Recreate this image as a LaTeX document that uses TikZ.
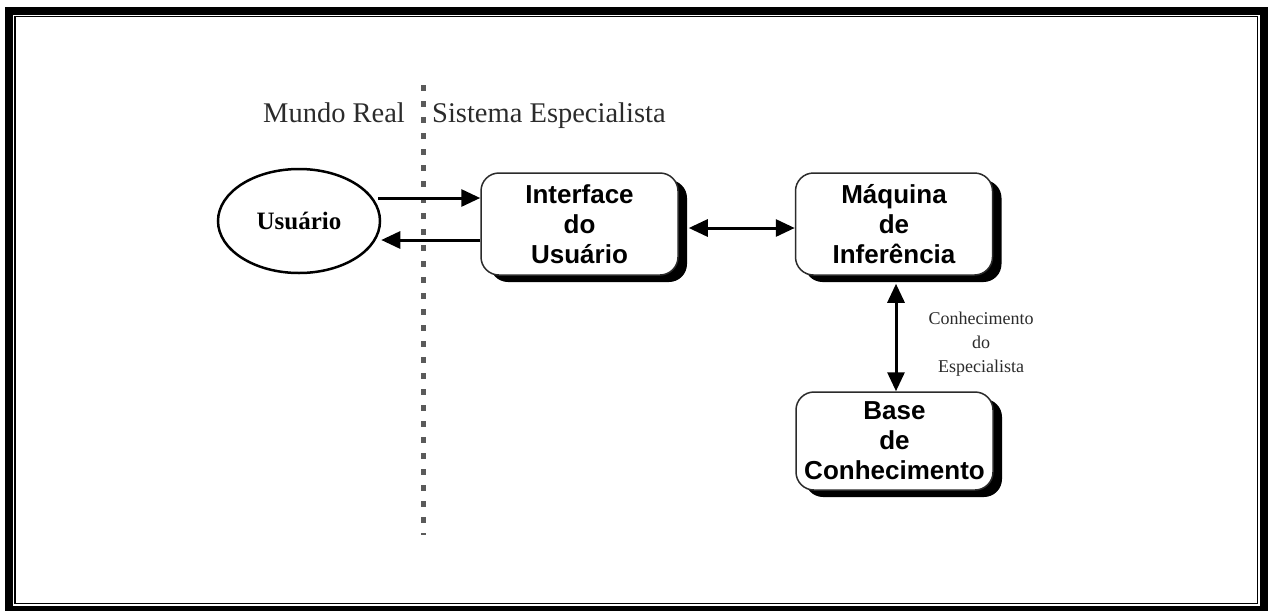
\documentclass[tikz,border=0pt]{standalone}
\usepackage{fontspec}
\setmainfont{Liberation Serif}
\newfontfamily\boxfont{Liberation Sans}
\usetikzlibrary{positioning,arrows.meta,calc,shapes.geometric,shadows}
\definecolor{ink}{HTML}{000000}
\definecolor{edge}{HTML}{2B2B2B}
\definecolor{divGrey}{HTML}{5A5A5A}

\begin{document}
\begin{tikzpicture}[x=1pt, y=-1pt, text=ink,
    block/.style={rounded corners=18pt, draw=edge, fill=white, line width=1.5pt,
      minimum width=197pt, minimum height=102pt, align=center,
      font=\boxfont\bfseries\fontsize{26}{30}\selectfont,
      drop shadow={shadow xshift=9pt, shadow yshift=-7pt, fill=black, opacity=1}},
    flow/.style={-{Triangle[length=19pt,width=17pt]}, line width=3pt, draw=ink},
    both/.style={{Triangle[length=19pt,width=17pt]}-{Triangle[length=19pt,width=17pt]}, line width=3pt, draw=ink},
    side/.style={font=\fontsize{28.5}{32}\selectfont, text=edge, inner sep=0pt}]
  \useasboundingbox (0,0) rectangle (1268,611);

  % ---------------- frame
  \fill[ink] (5,7) rectangle (1268,611);
  \fill[white] (13,15) rectangle (1259.5,605.5);
  \draw[ink, line width=1.5pt] (15,16.5) rectangle (1257.5,603.5);

  % ---------------- divider and the two sides
  \coordinate (divTop) at (423,85);
  \coordinate (divBot) at (423,535);
  \draw[divGrey, line width=5pt, dash pattern=on 6pt off 10pt] (divTop) -- (divBot);
  \node[side, anchor=base west] (real) at (263,122) {Mundo Real};
  \node[side, anchor=base west] (sys) at (432,122) {Sistema Especialista};

  % ---------------- user
  \node[ellipse, draw=ink, line width=2.5pt, minimum width=162pt, minimum height=104pt,
        font=\bfseries\fontsize{25}{28}\selectfont] (user) at (299,221) {Usuário};

  % ---------------- system blocks
  \node[block] (iface) at (579.5,224) {Interface\\do\\Usuário};
  \node[block] (maq) at (894,224) {Máquina\\de\\Inferência};
  \node[block, minimum height=98pt] (base) at (894.5,441) {Base\\de\\Conhecimento};
  \node[align=center, font=\fontsize{18}{24}\selectfont, text=edge] (know) at (981,344)
       {Conhecimento\\do\\Especialista};

  % ---------------- arrows
  \draw[flow] ($(user.east |- iface.west)+(-3,-26)$) -- ($(iface.west)+(0,-26)$);
  \draw[flow] ($(iface.west)+(0,16)$) -- ($(user.east |- iface.west)+(0,16)$);
  \draw[both] ($(iface.east)+(10,4)$) -- ($(maq.west)+(0,4)$);
  \draw[both] ($(maq.south)+(2,8)$) -- ($(base.north)+(1.5,0)$);
\end{tikzpicture}
\end{document}
